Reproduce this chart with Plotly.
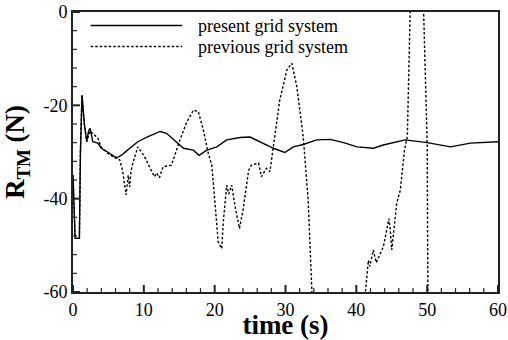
import plotly.graph_objects as go

# ---- data ----
present_t = [0, 0.15, 0.3, 0.9, 1.05, 1.27, 1.45, 1.6, 1.94, 2.2, 2.4, 2.8, 3.5, 4.0, 4.9, 5.85,
             6.3, 7.0, 7.7, 9.15, 10.6, 11.7, 12.3, 13.2, 14.6, 15.6, 17.0, 17.8, 18.9, 20.3,
             21.7, 23.6, 25.0, 26.4, 28.3, 29.9, 31.1, 32.5, 34.4, 36.3, 38.2, 40.1, 42.4,
             43.8, 46.9, 50.0, 53.3, 56.1, 60.0]
present_y = [-35, -44, -48.5, -48.5, -30, -17.8, -21, -24, -27.8, -25.5, -24.9, -27.8, -28.1, -29.2,
             -30, -31, -31.2, -30.5, -29.6, -27.8, -26.7, -26, -25.6, -26, -27.8, -29.2, -29.6,
             -30.7, -29.6, -28.9, -27.4, -26.9, -26.8, -27.8, -29.2, -30.1, -28.9, -28.4, -27.4,
             -27.3, -28, -28.9, -29.2, -28.5, -27.4, -28, -28.9, -28.1, -27.8]

previous_t = [0, 0.15, 0.3, 0.9, 1.05, 1.27, 1.45, 1.6, 1.94, 2.4, 3.5, 4.0, 4.9, 5.85, 6.6, 7.0,
              7.5, 7.8, 8.0, 8.2, 8.45, 9.15, 10.1, 10.85, 11.5, 11.8, 12.2, 12.7, 13.9, 15.1,
              16.0, 17.0, 17.7, 18.4, 19.1, 19.6, 20.0, 20.3, 20.5, 21.0, 21.2, 21.5, 21.7,
              22.0, 22.4, 22.9, 23.5, 24.0, 24.8, 25.2, 26.2, 26.6, 27.3, 27.8, 28.5, 29.2,
              30.2, 30.9, 31.6, 32.5, 33.2, 33.7, 34.0, 37.5, 41.0, 41.3, 41.7, 41.9, 42.4,
              42.8, 43.8, 44.6, 44.8, 45.0, 45.5, 45.7, 46.2, 46.6, 46.8, 47.2, 47.6, 48.5,
              49.5, 50.0, 50.1, 50.3]
previous_y = [-35, -44, -48.5, -48.5, -30, -17.8, -21, -24, -27.8, -25.5, -27, -29, -30.3, -31.2,
              -31.7, -34, -39.2, -35, -37.5, -34, -32.4, -28.9, -31, -33.2, -35.3, -34.5, -35.5,
              -33.2, -32.8, -27.4, -23.8, -21, -21.4, -25.3, -30.3, -32.8, -40.3, -45.3, -49.3,
              -50.7, -45.3, -40.3, -37.1, -39, -37.1, -41.8, -46.4, -42.5, -33.9, -32.8, -32.4,
              -35.3, -33.5, -34.2, -26, -18.8, -12.4, -11, -16, -26.7, -40.3, -59, -70, -90,
              -70, -59.7, -53.2, -54.5, -51, -53.7, -50.4, -44.3, -46.8, -51, -43.2, -41, -38.2,
              -33.2, -29.6, -26.7, 0, 15, 0, -28, -59, -80]

x_tickvals = [0, 10, 20, 30, 40, 50, 60]
x_ticktext = ["0", "10", "20", "30", "40", "50", "60"]
y_tickvals = [0, -20, -40, -60]
y_ticktext = ["0", "-20", "-40", "-60"]
x_minor_step = 2
y_minor_step = 4

series_names = ["present grid system", "previous grid system"]

FONT = "Liberation Serif"
AX = "#222222"

x_min, x_max = x_tickvals[0], x_tickvals[-1]
y_min, y_max = y_tickvals[-1], y_tickvals[0]

fig = go.Figure()
fig.add_trace(go.Scatter(x=present_t, y=present_y, mode="lines", name=series_names[0],
                         line=dict(color="black", width=1.4), showlegend=False))
fig.add_trace(go.Scatter(x=previous_t, y=previous_y, mode="lines", name=series_names[1],
                         line=dict(color="black", width=1.4, dash="2.5px,2px"), showlegend=False))

# inward tick marks (major and minor) built from the tick lists, on the axis scales
x_span, y_span = x_max - x_min, y_max - y_min
for major in (True, False):
    tx, ty = [], []
    for v in range(x_min, x_max + 1, x_minor_step):
        if (v in x_tickvals) == major:
            L = (0.025 if major else 0.014) * y_span
            tx += [v, v, None]
            ty += [y_min, y_min + L, None]
    ux, uy = [], []
    for v in range(y_min, y_max + 1, y_minor_step):
        if (v in y_tickvals) == major:
            L = (0.0165 if major else 0.0095) * x_span
            ux += [x_min, x_min + L, None]
            uy += [v, v, None]
    fig.add_trace(go.Scatter(x=tx + ux, y=ty + uy, mode="lines", hoverinfo="skip",
                             line=dict(color=AX, width=2 if major else 1.2), showlegend=False))

# manual legend (long line samples as in the reference)
legend_rows = [(-2.9, "solid"), (-7.4, "2.5px,2px")]
for (ly, dash), name in zip(legend_rows, series_names):
    fig.add_shape(type="line", x0=2.5, x1=15.4, y0=ly, y1=ly, xref="x", yref="y",
                  line=dict(color="black", width=1.4, dash=dash))
    fig.add_annotation(x=17.4, y=ly, xref="x", yref="y", text=name, showarrow=False,
                       xanchor="left", yanchor="middle",
                       font=dict(family=FONT, size=18, color="black"))

fig.update_xaxes(range=[x_min, x_max], tickmode="array", tickvals=x_tickvals, ticktext=x_ticktext,
                 showline=True, linecolor=AX, linewidth=2, mirror=True, automargin=False,
                 ticks="", showgrid=False, zeroline=False,
                 tickfont=dict(family=FONT, size=18, color="black"),
                 title=dict(text="<b>time (s)</b>", font=dict(family=FONT, size=27, color="black")))
fig.update_yaxes(range=[y_min, y_max], tickmode="array", tickvals=y_tickvals, ticktext=y_ticktext,
                 showline=True, linecolor=AX, linewidth=2, mirror=True, automargin=False,
                 ticks="", showgrid=False, zeroline=False,
                 tickfont=dict(family=FONT, size=18, color="black"),
                 title=dict(text="<b>R<sub>TM</sub> (N)</b>",
                            font=dict(family=FONT, size=27, color="black")))

fig.update_layout(width=508, height=340, margin=dict(l=73, r=10, t=12, b=48, autoexpand=False),
                  font=dict(family=FONT, color="black"),
                  plot_bgcolor="white", paper_bgcolor="white", showlegend=False)

fig.write_html("out.html", config={"displayModeBar": False})

# remove the default page margin so the 508x340 figure fits the window exactly
with open("out.html", "r", encoding="utf-8") as f:
    html = f.read()
html = html.replace("<head>", "<head><style>html,body{margin:0;padding:0;overflow:hidden;}</style>", 1)
with open("out.html", "w", encoding="utf-8") as f:
    f.write(html)
